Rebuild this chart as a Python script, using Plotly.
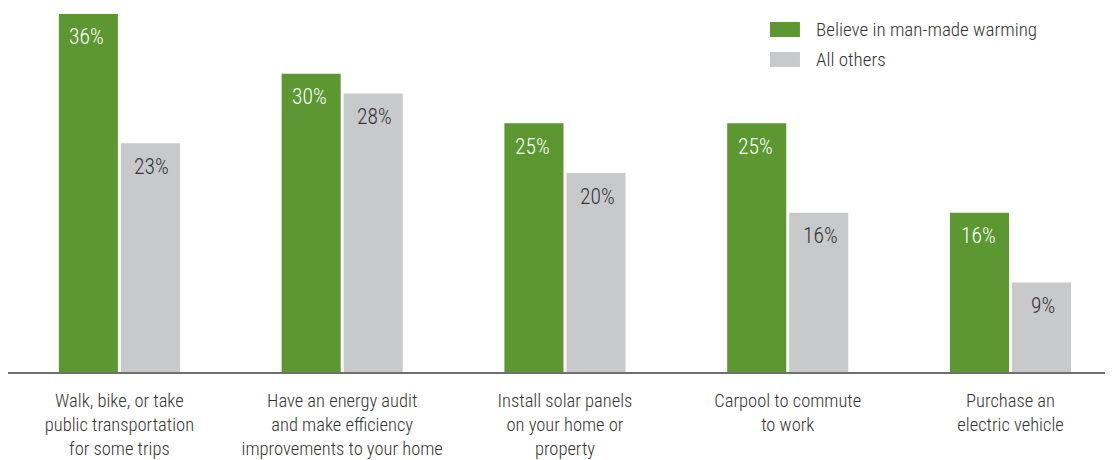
import plotly.graph_objects as go

categories = [
    "Walk, bike, or take<br>public transportation<br>for some trips",
    "Have an energy audit<br>and make efficiency<br>improvements to your home",
    "Install solar panels<br>on your home or<br>property",
    "Carpool to commute<br>to work",
    "Purchase an<br>electric vehicle",
]
series_names = ["Believe in man-made warming", "All others"]
believe = [36, 30, 25, 25, 16]
others = [23, 28, 20, 16, 9]

GREEN = "#5c9732"
GRAY = "#c8c9cb"
FONT = "Roboto Condensed, Liberation Sans Narrow, Roboto, sans-serif"

fig = go.Figure()
fig.add_trace(go.Bar(x=categories, y=believe, name=series_names[0], marker_color=GREEN,
                     marker_line_width=0, showlegend=False))
fig.add_trace(go.Bar(x=categories, y=others, name=series_names[1], marker_color=GRAY,
                     marker_line_width=0, showlegend=False))

annotations = []
for vals, shift, col in [(believe, -32.5, "white"), (others, 32.5, "#333333")]:
    for c, v in zip(categories, vals):
        annotations.append(dict(x=c, y=v, xref="x", yref="y", text=f"{v}%", showarrow=False,
                                xshift=shift, yshift=-23, yanchor="middle",
                                font=dict(family=FONT, size=21.5, color=col, weight=300)))

# manual legend
legend_colors = [GREEN, GRAY]
shapes = []
leg_top = [0.9615, 0.8791]
for name, col, yt in zip(series_names, legend_colors, leg_top):
    shapes.append(dict(type="rect", xref="paper", yref="paper", x0=0.6896, x1=0.7167,
                       y0=yt - 0.0412, y1=yt, fillcolor=col, line_width=0))
    annotations.append(dict(xref="paper", yref="paper", x=0.7294, y=yt - 0.0206, text=name,
                            showarrow=False, xanchor="left", yanchor="middle",
                            font=dict(family=FONT, size=19, color="#333333", weight=300)))

fig.update_layout(
    width=1105, height=452,
    margin=dict(l=0, r=0, t=0, b=88),
    plot_bgcolor="white", paper_bgcolor="white",
    barmode="group", bargap=0.443, bargroupgap=0.048,
    shapes=shapes, annotations=annotations,
    font=dict(family=FONT, color="#333333", weight=300),
)
fig.update_xaxes(range=[-0.5, 4.46], showline=True, linecolor="#707070", linewidth=1.5,
                 ticks="", showgrid=False, automargin=False, ticklabelstandoff=11,
                 tickfont=dict(family=FONT, size=18.5, color="#333333", weight=300))
fig.update_yaxes(range=[0, 36.6], visible=False, showgrid=False, zeroline=False)

fig.write_html("out.html")
